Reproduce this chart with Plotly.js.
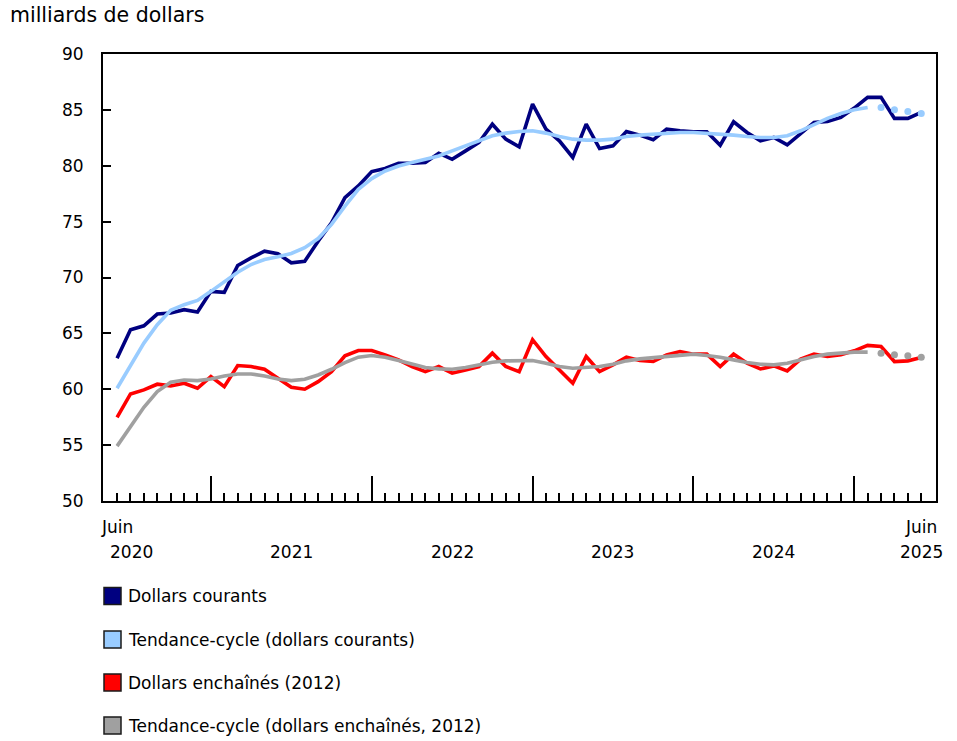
<!DOCTYPE html>
<html>
<head>
<meta charset="utf-8">
<script src="https://cdn.plot.ly/plotly-3.0.1.min.js"></script>
<style>
  html, body { margin: 0; padding: 0; background: #fff; }
  #chart { width: 957px; height: 741px; }
</style>
</head>
<body>
<div id="chart"></div>
<script>
// months from June 2020 to June 2025
const months = [
    '2020-06', '2020-07', '2020-08', '2020-09', '2020-10', '2020-11', '2020-12',
    '2021-01', '2021-02', '2021-03', '2021-04', '2021-05', '2021-06', '2021-07', '2021-08', '2021-09', '2021-10', '2021-11', '2021-12',
    '2022-01', '2022-02', '2022-03', '2022-04', '2022-05', '2022-06', '2022-07', '2022-08', '2022-09', '2022-10', '2022-11', '2022-12',
    '2023-01', '2023-02', '2023-03', '2023-04', '2023-05', '2023-06', '2023-07', '2023-08', '2023-09', '2023-10', '2023-11', '2023-12',
    '2024-01', '2024-02', '2024-03', '2024-04', '2024-05', '2024-06', '2024-07', '2024-08', '2024-09', '2024-10', '2024-11', '2024-12',
    '2025-01', '2025-02', '2025-03', '2025-04', '2025-05', '2025-06'
];

const dollarsCourants = [
    62.78, 65.32, 65.68, 66.73, 66.82, 67.12, 66.91, 68.76, 68.67, 71.07, 71.76, 72.35, 72.12, 71.31, 71.45, 73.25, 74.90, 77.15, 78.19, 79.48,
    79.75, 80.23, 80.23, 80.29, 81.12, 80.58, 81.33, 82.08, 83.72, 82.38, 81.69, 85.52, 83.28, 82.23, 80.74, 83.72, 81.54, 81.78, 83.07, 82.74, 82.32, 83.28,
    83.13, 83.04, 83.04, 81.84, 83.93, 82.98, 82.23, 82.53, 81.87, 82.83, 83.88, 83.97, 84.33, 85.16, 86.12, 86.12, 84.24, 84.24, 84.78
];

const tendanceCourants = [
    60.09, 62.18, 64.13, 65.77, 67.06, 67.57, 67.95, 68.76, 69.57, 70.47, 71.16, 71.61, 71.85, 72.15, 72.66, 73.49, 74.75, 76.39, 77.89, 78.85,
    79.53, 79.98, 80.29, 80.58, 80.88, 81.33, 81.78, 82.23, 82.68, 82.92, 83.07, 83.13, 82.92, 82.62, 82.38, 82.29, 82.29, 82.38, 82.62, 82.74, 82.83, 82.92,
    82.98, 82.98, 82.92, 82.83, 82.74, 82.62, 82.53, 82.53, 82.68, 83.13, 83.72, 84.24, 84.68, 85.01, 85.22, 85.22, 85.01, 84.86, 84.68
];

const dollarsEnchaines = [
    57.49, 59.58, 59.94, 60.45, 60.30, 60.54, 60.09, 61.13, 60.23, 62.12, 62.03, 61.79, 60.99, 60.18, 60.00, 60.68, 61.58, 62.99, 63.47, 63.47,
    63.08, 62.63, 62.03, 61.58, 62.03, 61.44, 61.73, 62.03, 63.23, 62.03, 61.58, 64.43, 62.93, 61.73, 60.54, 62.93, 61.58, 62.18, 62.87, 62.57, 62.48, 63.08,
    63.38, 63.14, 63.14, 62.03, 63.14, 62.33, 61.82, 62.09, 61.64, 62.69, 63.14, 62.93, 63.08, 63.44, 63.92, 63.83, 62.48, 62.54, 62.84
];

const tendanceEnchaines = [
    54.91, 56.59, 58.38, 59.79, 60.63, 60.83, 60.77, 60.92, 61.19, 61.37, 61.37, 61.19, 60.92, 60.77, 60.90, 61.28, 61.79, 62.39, 62.87, 63.02,
    62.87, 62.57, 62.24, 61.94, 61.82, 61.79, 61.94, 62.18, 62.42, 62.54, 62.57, 62.57, 62.33, 62.03, 61.88, 61.94, 62.03, 62.24, 62.54, 62.72, 62.84, 62.93,
    63.08, 63.14, 63.02, 62.87, 62.63, 62.39, 62.24, 62.18, 62.33, 62.63, 62.93, 63.14, 63.23, 63.32, 63.32, 63.23, 63.08, 62.99, 62.87
];

// trend-cycle is solid up to this month, dotted afterwards
const lastSolid = '2025-02';

const seriesNames = [
    'Dollars courants',
    'Tendance-cycle (dollars courants)',
    'Dollars enchaînés (2012)',
    'Tendance-cycle (dollars enchaînés, 2012)'
];
const seriesColors = ['#000080', '#99CCFF', '#FF0000', '#A0A0A0'];

const yearLabels = ['2021', '2022', '2023', '2024'];

const FONT = "'DejaVu Sans', Verdana, sans-serif";

// plot area in pixels, used to place labels/legend in paper units
const PLOT = { left: 103, right: 936, top: 54, bottom: 501 };
const plotH = PLOT.bottom - PLOT.top;
const plotW = PLOT.right - PLOT.left;
const py = px => (PLOT.bottom - px) / plotH;
const pxX = px => (px - PLOT.left) / plotW;

const x = months.map((m, i) => i);
const cut = months.indexOf(lastSolid) + 1;
const janIdx = months.map((m, i) => m.endsWith('-01') ? i : -1).filter(i => i >= 0);
const otherIdx = x.filter(i => !janIdx.includes(i));

const traces = [
    {
        x, y: dollarsCourants, type: 'scatter', mode: 'lines',
        line: { color: seriesColors[0], width: 3.6 }, hoverinfo: 'skip'
    },
    {
        x: x.slice(0, cut), y: tendanceCourants.slice(0, cut), type: 'scatter', mode: 'lines',
        line: { color: seriesColors[1], width: 3.6 }, hoverinfo: 'skip'
    },
    {
        x: x.slice(cut), y: tendanceCourants.slice(cut), type: 'scatter', mode: 'markers',
        marker: { color: seriesColors[1], size: 7 }, hoverinfo: 'skip'
    },
    {
        x, y: dollarsEnchaines, type: 'scatter', mode: 'lines',
        line: { color: seriesColors[2], width: 3.6 }, hoverinfo: 'skip'
    },
    {
        x: x.slice(0, cut), y: tendanceEnchaines.slice(0, cut), type: 'scatter', mode: 'lines',
        line: { color: seriesColors[3], width: 3.6 }, hoverinfo: 'skip'
    },
    {
        x: x.slice(cut), y: tendanceEnchaines.slice(cut), type: 'scatter', mode: 'markers',
        marker: { color: seriesColors[3], size: 7 }, hoverinfo: 'skip'
    }
];

const annotations = [];
const shapes = [];

// x labels: "Juin 2020" at the start, years in the middle of each span, "Juin 2025" at the end
annotations.push({ x: 0, y: py(527), xref: 'x', yref: 'paper', text: 'Juin', showarrow: false, xanchor: 'center', yanchor: 'middle' });
annotations.push({ x: 1.05, y: py(552), xref: 'x', yref: 'paper', text: '2020', showarrow: false, xanchor: 'center', yanchor: 'middle' });
yearLabels.forEach((yr, k) => {
    annotations.push({ x: janIdx[k] + 6, y: py(552), xref: 'x', yref: 'paper', text: yr, showarrow: false, xanchor: 'center', yanchor: 'middle' });
});
annotations.push({ x: months.length - 1, y: py(527), xref: 'x', yref: 'paper', text: 'Juin', showarrow: false, xanchor: 'center', yanchor: 'middle' });
annotations.push({ x: months.length - 1, y: py(552), xref: 'x', yref: 'paper', text: '2025', showarrow: false, xanchor: 'center', yanchor: 'middle' });

// legend drawn by hand: square swatches with black border
const legendRows = [596, 639.5, 682.5, 725.5];
seriesNames.forEach((name, k) => {
    const yc = legendRows[k];
    shapes.push({
        type: 'rect', xref: 'paper', yref: 'paper',
        x0: pxX(104), x1: pxX(121), y0: py(yc + 8.5), y1: py(yc - 8.5),
        fillcolor: seriesColors[k], line: { color: '#1a1a1a', width: 1.5 }
    });
    annotations.push({
        x: pxX(126), y: py(yc), xref: 'paper', yref: 'paper', text: name,
        showarrow: false, xanchor: 'left', yanchor: 'middle'
    });
});

const layout = {
    width: 957,
    height: 741,
    paper_bgcolor: '#fff',
    plot_bgcolor: '#fff',
    font: { family: FONT, size: 17, color: '#000' },
    showlegend: false,
    margin: { l: PLOT.left, r: 957 - PLOT.right, t: PLOT.top, b: 741 - PLOT.bottom, pad: 0 },
    title: {
        text: 'milliards de dollars',
        font: { family: FONT, size: 20.5, color: '#000' },
        xref: 'container', yref: 'container',
        x: 10 / 957, xanchor: 'left',
        y: 1 - 15 / 741, yanchor: 'middle'
    },
    xaxis: {
        type: 'linear',
        range: [-1.05, 61.1],
        showgrid: false, zeroline: false,
        showline: true, linecolor: '#000', linewidth: 2, mirror: true,
        tickmode: 'array', tickvals: janIdx,
        ticks: 'inside', ticklen: 25, tickwidth: 2, tickcolor: '#000',
        showticklabels: false,
        minor: { tickmode: 'array', tickvals: otherIdx, ticks: 'inside', ticklen: 8, tickwidth: 2, tickcolor: '#000', showgrid: false }
    },
    yaxis: {
        range: [50, 90],
        dtick: 5, tick0: 50,
        showgrid: false, zeroline: false,
        showline: true, linecolor: '#000', linewidth: 2, mirror: true,
        ticks: 'inside', ticklen: 8, tickwidth: 2, tickcolor: '#000',
        ticklabelstandoff: 14
    },
    annotations,
    shapes
};

Plotly.newPlot('chart', traces, layout, { displayModeBar: false, staticPlot: true });
</script>
</body>
</html>
